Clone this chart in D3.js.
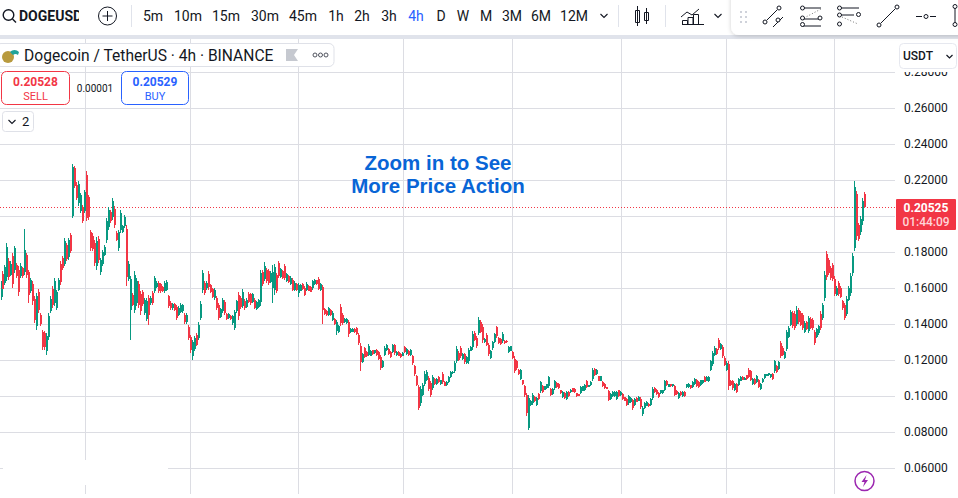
<!DOCTYPE html>
<html><head><meta charset="utf-8">
<script src="https://cdn.jsdelivr.net/npm/d3@7/dist/d3.min.js"></script>
<style>html,body{margin:0;padding:0;background:#fff;overflow:hidden}svg{display:block}text{font-family:Roboto,"Open Sans",sans-serif}</style>
</head><body><svg id="c" width="958" height="498"></svg>
<script>
// Candle values, in units of 0.0001 USDT, oldest first.
const highs=[
1637,1692,1730,1850,1767,1748,1794,1835,1739,1720,1739,1716,1930,1794,1702,1655,1637,1554,1572,1594,
1461,1368,1359,1350,1461,1554,1609,1655,1590,1655,1748,1776,1878,1850,1878,1906,2291,2276,2187,2193,
2128,2063,2146,2248,2118,1924,1905,1868,1883,1887,1767,1813,1841,1989,2050,2035,2100,2054,1915,
1924,2031,1952,2007,1952,1748,1665,1572,1692,1655,1637,1581,1590,1544,1544,1563,1554,1581,1665,
1637,1637,1628,1612,1637,1646,1563,1526,1517,1517,1507,1498,1517,1513,1461,1461,1396,1341,1313,1331,1350,
1409,1526,1702,1637,1637,1692,1625,1600,1600,1554,1517,1489,1544,1535,1461,1461,1452,1452,1479,1535,1576,
1554,1594,1539,1544,1576,1572,1572,1544,1526,1539,1702,1702,1744,1711,1706,1693,1730,1735,1683,1752,
1711,1702,1735,1683,1674,1665,1656,1637,1628,1628,1624,1628,1609,1632,1618,1609,1646,1650,1646,1661,
1628,1618,1489,1480,1494,1483,1470,1433,1424,1396,1513,1461,1433,1433,1424,1378,1378,1378,1383,1350,
1294,1239,1272,1248,1291,1257,1257,1257,1261,1248,1230,1202,1276,1289,1267,1248,1291,1289,1248,
1248,1239,1243,1276,1267,1257,1261,1230,1174,1118,1063,1054,1072,1137,1143,1109,1081,1118,1100,1100,
1109,1091,1131,1081,1081,1109,1137,1137,1193,1276,1248,1276,1239,1239,1220,1267,1276,1359,1359,1331,
1439,1420,1400,1323,1350,1295,1258,1304,1350,1391,1328,1323,1354,1310,1310,1276,1280,1248,1221,1202,
1150,1150,1091,1063,1017,1008,980,1017,1002,995,1017,1085,1063,1058,1069,1113,1045,1045,1091,1076,
1073,1036,1026,1021,1026,1026,1039,1045,1045,1017,1013,1058,1058,1069,1087,1063,1082,1156,1156,1150,
1113,1113,1082,1073,1050,1036,1017,1030,1026,1026,1036,1026,1017,995,989,1008,995,984,989,995,
998,995,943,965,971,961,989,1050,1050,1039,1021,1036,1036,1091,1087,1069,1069,1069,1063,1032,
1021,1026,1026,1026,1069,1073,1063,1082,1100,1095,1082,1091,1091,1110,1110,1113,
1202,1248,1276,1267,1322,1294,1285,1220,1193,1193,1091,1091,1072,1072,1100,1109,1109,1105,1118,1155,
1146,1100,1100,1118,1094,1072,1100,1124,1124,1130,1124,1128,1202,1174,1193,1304,1276,1248,1368,1387,1476,
1470,1470,1502,1490,1470,1461,1415,1415,1443,1440,1433,1368,1378,1396,1470,1517,1693,1804,1767,1720,1739,1665,
1609,1637,1609,1535,1517,1554,1609,1683,1794,2196,2137,1961,1998,2100,2131];
const lows=[
1535,1581,1618,1637,1646,1665,1600,1683,1655,1554,1655,1655,1674,1655,1517,1572,1507,1405,1368,1461,
1387,1257,1257,1230,1313,1461,1489,1498,1480,1581,1618,1702,1720,1748,1757,1794,1989,2155,2091,2054,
2017,1961,2017,1970,1980,1804,1804,1720,1702,1739,1674,1720,1776,1850,1924,1961,1980,1933,1859,
1804,1905,1905,1933,1609,1637,1309,1498,1461,1498,1489,1452,1498,1448,1415,1392,1507,1507,1572,
1600,1572,1572,1580,1572,1581,1489,1480,1480,1470,1424,1442,1461,1461,1402,1402,1313,1239,1202,1248,1276,
1313,1424,1572,1563,1591,1591,1570,1544,1535,1479,1424,1433,1461,1452,1424,1429,1424,1396,1365,1461,1424,
1483,1489,1480,1489,1517,1507,1517,1483,1480,1489,1498,1609,1637,1628,1618,1628,1517,1563,1572,1656,
1656,1650,1646,1632,1628,1618,1581,1581,1581,1548,1581,1591,1554,1581,1581,1576,1591,1618,1618,1587,
1581,1402,1452,1443,1446,1443,1415,1396,1341,1350,1391,1396,1405,1402,1328,1350,1354,1350,1341,1285,
1137,1183,1211,1217,1220,1220,1230,1235,1224,1202,1143,1156,1220,1248,1230,1211,1239,1230,1224,
1220,1211,1220,1239,1230,1224,1220,1174,1113,1054,920,943,998,1054,1081,1026,993,1035,1063,1063,
1072,1063,1068,1054,1057,1072,1100,1124,1128,1183,1193,1211,1202,1180,1180,1180,1248,1257,1304,1267,
1341,1350,1295,1295,1276,1221,1206,1258,1295,1323,1291,1286,1295,1291,1295,1239,1248,1206,1128,1147,
1119,1087,1063,995,891,813,943,952,965,943,980,1017,1017,1032,1039,1045,1002,1008,1036,1045,
1039,1013,989,984,980,995,1017,1021,1017,995,998,1013,1026,1026,1045,1050,1058,1082,1113,1119,
1082,1082,1050,1039,1039,971,980,995,995,976,995,1002,976,971,943,952,961,924,947,965,
971,928,891,928,943,939,947,980,1017,1008,989,1013,1013,1026,1058,1050,1050,1050,998,1008,
984,1002,995,995,1045,1045,1039,1045,1063,1050,1045,1058,1069,1076,1082,1076,
1137,1165,1220,1230,1257,1257,1211,1165,1137,1035,1054,1035,1026,1017,1054,1082,1087,1087,1091,1100,
1082,1063,1063,1072,1044,1035,1072,1094,1109,1112,1100,1091,1128,1128,1146,1211,1220,1205,1248,1322,1387,
1378,1368,1387,1400,1387,1368,1350,1368,1350,1370,1368,1281,1322,1341,1368,1424,1526,1646,1674,1646,1637,1554,
1554,1554,1544,1480,1424,1443,1526,1554,1665,1804,1868,1859,1896,1952,2044];
const opens=[
1550,1680,1630,1660,1750,1675,1780,1700,1730,1700,1665,1710,1690,1785,1690,1585,1625,1540,1390,1580,
1450,1355,1350,1250,1330,1470,1595,1515,1490,1590,1735,1768,1735,1840,1770,1895,2000,2265,2175,2070,
2030,2050,2030,2230,2105,1910,1890,1850,1720,1870,1690,1735,1785,1865,1940,2025,1995,2040,1905,
1820,1920,1912,1942,1930,1650,1480,1562,1480,1515,1620,1565,1578,1460,1430,1545,1515,1570,1582,
1606,1628,1620,1606,1582,1590,1553,1518,1487,1510,1497,1450,1468,1470,1452,1410,1385,1330,1220,1260,1340,
1325,1435,1590,1628,1598,1680,1618,1593,1545,1545,1505,1440,1472,1525,1455,1434,1447,1404,1380,1470,1560,
1545,1502,1530,1496,1568,1564,1524,1536,1486,1495,1520,1690,1650,1700,1695,1636,1600,1590,1670,1740,
1662,1695,1724,1638,1668,1624,1646,1588,1622,1570,1586,1623,1602,1587,1613,1604,1598,1622,1642,1650,
1587,1605,1484,1475,1452,1478,1422,1428,1360,1356,1495,1452,1409,1406,1410,1354,1358,1374,1377,1341,
1280,1190,1264,1244,1228,1225,1253,1238,1256,1242,1218,1162,1228,1254,1262,1243,1246,1281,1227,
1244,1235,1223,1271,1235,1252,1226,1222,1165,1109,1050,960,1008,1065,1090,1098,1070,1046,1095,1068,
1104,1067,1122,1077,1060,1077,1105,1126,1137,1196,1240,1267,1207,1231,1186,1192,1252,1270,1352,1322,
1352,1412,1385,1299,1340,1285,1213,1264,1302,1382,1323,1318,1303,1307,1307,1244,1252,1243,1208,1195,
1146,1095,1087,1054,1005,825,948,960,997,950,1012,1026,1057,1035,1043,1054,1040,1013,1043,1072,
1068,1033,994,1016,986,1022,1020,1042,1041,1014,1011,1019,1030,1032,1082,1052,1061,1092,1150,1123,
1109,1086,1078,1069,1048,1028,985,1000,999,982,1031,1005,1012,992,983,959,965,976,952,991,
974,986,898,933,947,958,952,989,1046,1035,1017,1016,1016,1034,1083,1052,1066,1053,1055,1029,
989,1023,999,1022,1048,1049,1060,1050,1068,1089,1077,1062,1072,1106,1086,1081,
1145,1176,1227,1262,1313,1262,1275,1213,1144,1180,1086,1084,1032,1065,1060,1086,1106,1089,1114,1147,
1138,1068,1095,1078,1088,1040,1076,1098,1111,1114,1103,1123,1138,1168,1152,1292,1269,1211,1260,1330,1395,
1459,1458,1400,1480,1460,1449,1358,1409,1362,1430,1425,1357,1329,1348,1458,1436,1547,1790,1756,1711,1726,1652,
1561,1627,1601,1528,1505,1457,1536,1570,1681,1820,2120,1948,1909,1970,2120];
const closes=[
1625,1595,1715,1830,1660,1735,1620,1820,1665,1580,1725,1665,1810,1670,1560,1645,1530,1425,1555,1480,
1400,1275,1270,1335,1445,1540,1505,1640,1580,1645,1635,1712,1860,1760,1865,1805,2270,2165,2100,2180,
2115,1975,2135,1990,1995,1820,1815,1740,1860,1755,1755,1800,1830,1975,2035,1972,2085,1950,1868,
1910,2015,1945,1995,1660,1735,1650,1508,1670,1640,1505,1470,1510,1532,1530,1450,1546,1518,1655,
1630,1582,1582,1586,1628,1636,1500,1488,1510,1478,1436,1490,1508,1505,1410,1452,1325,1255,1300,1320,1285,
1397,1512,1685,1573,1630,1603,1578,1552,1590,1490,1436,1482,1533,1462,1430,1456,1429,1445,1465,1526,1445,
1492,1580,1488,1536,1525,1516,1565,1491,1520,1532,1685,1620,1725,1638,1630,1684,1690,1715,1585,1668,
1704,1657,1657,1676,1634,1658,1591,1630,1587,1618,1618,1596,1561,1625,1586,1580,1638,1645,1622,1597,
1622,1480,1457,1448,1487,1448,1463,1401,1412,1390,1408,1405,1429,1428,1342,1374,1374,1354,1347,1294,
1190,1231,1219,1221,1280,1252,1233,1254,1229,1208,1155,1196,1268,1283,1235,1216,1284,1238,1244,
1224,1215,1240,1244,1262,1229,1255,1182,1122,1063,935,1040,1062,1125,1134,1038,1005,1107,1068,1095,
1077,1087,1077,1058,1078,1104,1132,1135,1184,1263,1200,1220,1234,1188,1214,1255,1272,1345,1311,1276,
1425,1358,1310,1319,1286,1231,1250,1298,1342,1332,1296,1291,1346,1294,1298,1271,1276,1212,1140,1154,
1123,1142,1067,1004,905,990,975,1008,970,988,985,1076,1023,1055,1065,1104,1008,1040,1084,1049,
1044,1016,1021,989,1020,999,1036,1024,1021,998,1000,1052,1054,1063,1050,1061,1079,1146,1119,1146,
1086,1109,1054,1043,1041,980,1012,1025,1022,1020,1000,1023,981,974,949,1001,991,932,984,969,
995,937,936,960,967,942,984,1041,1021,1012,993,1033,1033,1083,1062,1066,1053,1066,1006,1011,
1016,1005,1022,999,1066,1069,1042,1077,1095,1056,1050,1087,1088,1080,1106,1108,
1192,1237,1268,1235,1266,1289,1221,1172,1185,1055,1059,1042,1066,1024,1094,1105,1090,1102,1095,1108,
1090,1095,1068,1112,1050,1067,1096,1120,1122,1127,1121,1096,1192,1134,1187,1223,1227,1242,1355,1379,1465,
1389,1380,1480,1410,1397,1380,1407,1374,1431,1378,1376,1292,1371,1389,1380,1505,1672,1660,1685,1655,1650,1567,
1602,1564,1552,1487,1436,1540,1599,1667,1778,2160,1890,1872,1985,2082,2052.5];

const axisTicks=[0.06,0.08,0.10,0.12,0.14,0.16,0.18,0.20,0.22,0.24,0.26,0.28];
const axisLabels=[0.06,0.08,0.10,0.12,0.14,0.16,0.18,0.22,0.24,0.26,0.28];
const monthGridIndex=[42.05,94.6,148.7,201.2,255.8,310.4,362.9,416.9];
const timeframes=["5m","10m","15m","30m","45m","1h","2h","3h","4h","D","W","M","3M","6M","12M"];
const timeframeCenters=[153,188,226,265,303,336,362,389,416,441,463,486,512,541,574];
const lastPrice=0.20525, sellPrice="0.20528", buyPrice="0.20529", spreadLabel="0.00001", countdown="01:44:09";
const RED="#f23645",GREEN="#089981",GRID="#dcdde3",INK="#131722";

const svg=d3.select("#c");
const n=highs.length;
const x=d3.scaleLinear().domain([0,n-1]).range([1,864]);
const y=d3.scaleLinear().domain([0.06,0.28]).range([468,72]);
const yq=q=>y(q/10000);
const snap=v=>Math.round(v)+0.5;

// grid
const plot=svg.append("g");
plot.selectAll("line.h").data(axisTicks).join("line").attr("class","h")
 .attr("x1",0).attr("x2",895).attr("y1",d=>snap(y(d))).attr("y2",d=>snap(y(d))).attr("stroke",GRID);
plot.selectAll("line.v").data(monthGridIndex).join("line").attr("class","v")
 .attr("x1",d=>snap(x(d))).attr("x2",d=>snap(x(d))).attr("y1",38).attr("y2",494).attr("stroke",GRID);
// blank patch over the grid at the lower left
plot.append("rect").attr("x",3).attr("y",460).attr("width",165).attr("height",25).attr("fill","#fff");

// dotted last-price line
plot.append("line").attr("x1",0).attr("x2",895).attr("y1",snap(y(lastPrice))).attr("y2",snap(y(lastPrice)))
 .attr("stroke",RED).attr("stroke-dasharray","1 2");

// candles
const idx=d3.range(n);
const col=i=>closes[i]>=opens[i]?GREEN:RED;
const cg=svg.append("g").attr("shape-rendering","crispEdges");
cg.selectAll("line").data(idx).join("line")
 .attr("x1",i=>x(i)).attr("x2",i=>x(i)).attr("y1",i=>yq(highs[i])).attr("y2",i=>yq(lows[i]))
 .attr("stroke",col).attr("stroke-width",1);
cg.selectAll("rect").data(idx).join("rect")
 .attr("x",i=>x(i)-0.5).attr("width",2)
 .attr("y",i=>Math.min(yq(opens[i]),yq(closes[i])))
 .attr("height",i=>Math.max(1,Math.abs(yq(opens[i])-yq(closes[i]))))
 .attr("fill",col);

// annotation
const note=svg.append("g").attr("text-anchor","middle").attr("fill","#0865d6");
note.selectAll("text").data(["Zoom in to See","More Price Action"]).join("text")
 .attr("x",438).attr("y",(d,i)=>170+i*23)
 .style("font-family","'Liberation Sans',Arial,sans-serif").style("font-size","20.5px").style("font-weight","700").text(d=>d);

// price axis labels (the 0.20000 label is hidden under the last-price tag)
svg.append("clipPath").attr("id","axc").append("rect").attr("x",896).attr("y",72).attr("width",62).attr("height",426);
svg.append("g").attr("clip-path","url(#axc)").selectAll("text").data(axisLabels).join("text")
 .attr("x",904).attr("y",d=>y(d)+4).attr("fill",INK).style("font-size","12px").text(d=>d3.format(".5f")(d));

// last price tag
svg.append("rect").attr("x",896).attr("y",199).attr("width",60).attr("height",31).attr("rx",1).attr("fill",RED);
svg.append("text").attr("x",926).attr("y",212).attr("text-anchor","middle").attr("fill","#fff").style("font-size","12px").style("font-weight","700").text(d3.format(".5f")(lastPrice));
svg.append("text").attr("x",926).attr("y",226).attr("text-anchor","middle").attr("fill","#ffd5d9").style("font-size","12px").style("font-weight","500").text(countdown);

// USDT button
svg.append("rect").attr("x",899.5).attr("y",43.5).attr("width",57).attr("height",25).attr("rx",4).attr("fill","#fff").attr("stroke","#e6e8ef");
svg.append("text").attr("x",903).attr("y",60).attr("fill",INK).style("font-size","12px").style("font-weight","500").text("USDT");
svg.append("path").attr("d","M946.5 55l3 3 3-3").attr("fill","none").attr("stroke",INK).attr("stroke-width",1.2);

// legend title
svg.append("rect").attr("x",-4).attr("y",43.5).attr("width",338).attr("height",23).attr("rx",5).attr("fill","#fff").attr("stroke","#dfe1e8");
svg.append("circle").attr("cx",8).attr("cy",57).attr("r",6).attr("fill","#b89a3e");
svg.append("path").attr("d","M10 52a6 6 0 0 1 9 0l-1 3a4 4 0 0 0-5 0z").attr("fill","#1fa39a");
svg.append("text").attr("x",24).attr("y",61).attr("fill",INK).style("font-size","15.6px").text("Dogecoin / TetherUS · 4h · BINANCE");
svg.append("path").attr("d","M286 49h12l-4 6 4 6h-12z").attr("fill","#c6c9d0");
[315,320.5,326].forEach(c=>svg.append("circle").attr("cx",c).attr("cy",55).attr("r",2).attr("fill","none").attr("stroke","#50535e").attr("stroke-width",1));

// sell/buy
const box=(bx,w,c,price,lab)=>{
 svg.append("rect").attr("x",bx+.5).attr("y",71.5).attr("width",w).attr("height",33).attr("rx",5).attr("fill","#fff").attr("stroke",c);
 svg.append("text").attr("x",bx+w/2+.5).attr("y",86).attr("text-anchor","middle").attr("fill",c).style("font-size","12px").style("font-weight","700").text(price);
 svg.append("text").attr("x",bx+w/2+.5).attr("y",100).attr("text-anchor","middle").attr("fill",c).style("font-size","11px").text(lab);
};
box(1,68,RED,sellPrice,"SELL");
box(121,67,"#2962ff",buyPrice,"BUY");
svg.append("text").attr("x",95).attr("y",92).attr("text-anchor","middle").attr("fill",INK).style("font-size","10px").text(spreadLabel);

// collapsed indicators
svg.append("rect").attr("x",2.5).attr("y",111.5).attr("width",31).attr("height",20).attr("rx",3).attr("fill","#fff").attr("stroke","#dfe1e8");
svg.append("path").attr("d","M8.5 120l3.5 3.5 3.5-3.5").attr("fill","none").attr("stroke",INK).attr("stroke-width",1.1);
svg.append("text").attr("x",22).attr("y",126).attr("fill",INK).style("font-size","13px").text("2");

// toolbar
svg.append("rect").attr("x",0).attr("y",0).attr("width",958).attr("height",35).attr("fill","#fff");
svg.append("rect").attr("x",0).attr("y",35).attr("width",958).attr("height",4).attr("fill","#e0e3eb");
svg.append("circle").attr("cx",8.5).attr("cy",15).attr("r",5.3).attr("fill","none").attr("stroke",INK).attr("stroke-width",1.4);
svg.append("path").attr("d","M12.5 19l3.5 3.5").attr("stroke",INK).attr("stroke-width",1.4);
svg.append("text").attr("x",19).attr("y",21).attr("fill",INK).style("font-size","14px").style("font-weight","700").text("DOGEUSD");
svg.append("rect").attr("x",79).attr("y",0).attr("width",12).attr("height",34).attr("fill","#fff");
svg.append("circle").attr("cx",107.5).attr("cy",16).attr("r",9).attr("fill","none").attr("stroke",INK);
svg.append("path").attr("d","M107.5 11v10M102.5 16h10").attr("stroke",INK);
svg.selectAll("text.tf").data(timeframes).join("text").attr("class","tf")
 .attr("x",(d,i)=>timeframeCenters[i]).attr("y",21).attr("text-anchor","middle")
 .attr("fill",d=>d==="4h"?"#2962ff":INK).style("font-size","14px").text(d=>d);
[131.5,618.5,665.5].forEach(s=>svg.append("line").attr("x1",s).attr("x2",s).attr("y1",5).attr("y2",27).attr("stroke","#e0e3eb"));
const stroke=(d,w)=>svg.append("path").attr("d",d).attr("fill","none").attr("stroke",INK).attr("stroke-width",w||1);
stroke("M600.5 14l3.5 3.5 3.5-3.5",1.1);
stroke("M714.5 14l3.5 3.5 3.5-3.5",1.1);
stroke("M637.5 6v20M635.5 10.5h4v12h-4zM646.5 8v16M644.5 12.5h4v8h-4z");
stroke("M681 17l6-5 5 3 7-6");
stroke("M682 24.5h22M682.5 24.5v-4h5v4M688 24.5v-7h5v7M693.5 24.5v-10h5v10");

// floating drawing tools panel
const defs=svg.append("defs");
const f=defs.append("filter").attr("id","sh").attr("x","-5%").attr("y","-20%").attr("width","110%").attr("height","150%");
f.append("feDropShadow").attr("dx",0).attr("dy",1).attr("stdDeviation",2).attr("flood-color","#000").attr("flood-opacity",.18);
svg.append("path").attr("d","M731 -5h240v40h-232a8 8 0 0 1-8-8z").attr("fill","#fff").attr("filter","url(#sh)");
[[740,11],[745,11],[740,16],[745,16],[740,21],[745,21]].forEach(p=>svg.append("rect").attr("x",p[0]).attr("y",p[1]).attr("width",2).attr("height",2).attr("fill","#cfd2da"));
const node=(cx,cy)=>svg.append("circle").attr("cx",cx).attr("cy",cy).attr("r",2).attr("fill","#fff").attr("stroke",INK);
stroke("M767 20l10-10");stroke("M773 27l10-10");node(765,22);node(779,8);node(778,20);
stroke("M802 8h19M802 19h19M802 26h19");svg.append("path").attr("d","M804 18l17-9").attr("stroke","#777").attr("stroke-dasharray","1 2");node(802.5,8);node(802.5,18);node(802.5,24.5);node(820,18);
stroke("M840 8h19M840 15h14");svg.append("path").attr("d","M842 17l16 7").attr("stroke","#777").attr("stroke-dasharray","1 2");node(839.5,8);node(839.5,15);node(839.5,24);node(858.5,14.5);
stroke("M881 23l14-14");node(879,25);node(897,7);
stroke("M916 16.5h6M930 16.5h6");node(926,16.5);
stroke("M955 8v16");node(955,6.5);node(955,24.5);

// bottom lightning badge
svg.append("circle").attr("cx",864.5).attr("cy",481).attr("r",9.5).attr("fill","#fff").attr("stroke","#9c27b0").attr("stroke-width",1.5);
svg.append("path").attr("d","M866.5 475l-5 7h3l-1.5 5 5-7h-3z").attr("fill","#9c27b0");
</script></body></html>
